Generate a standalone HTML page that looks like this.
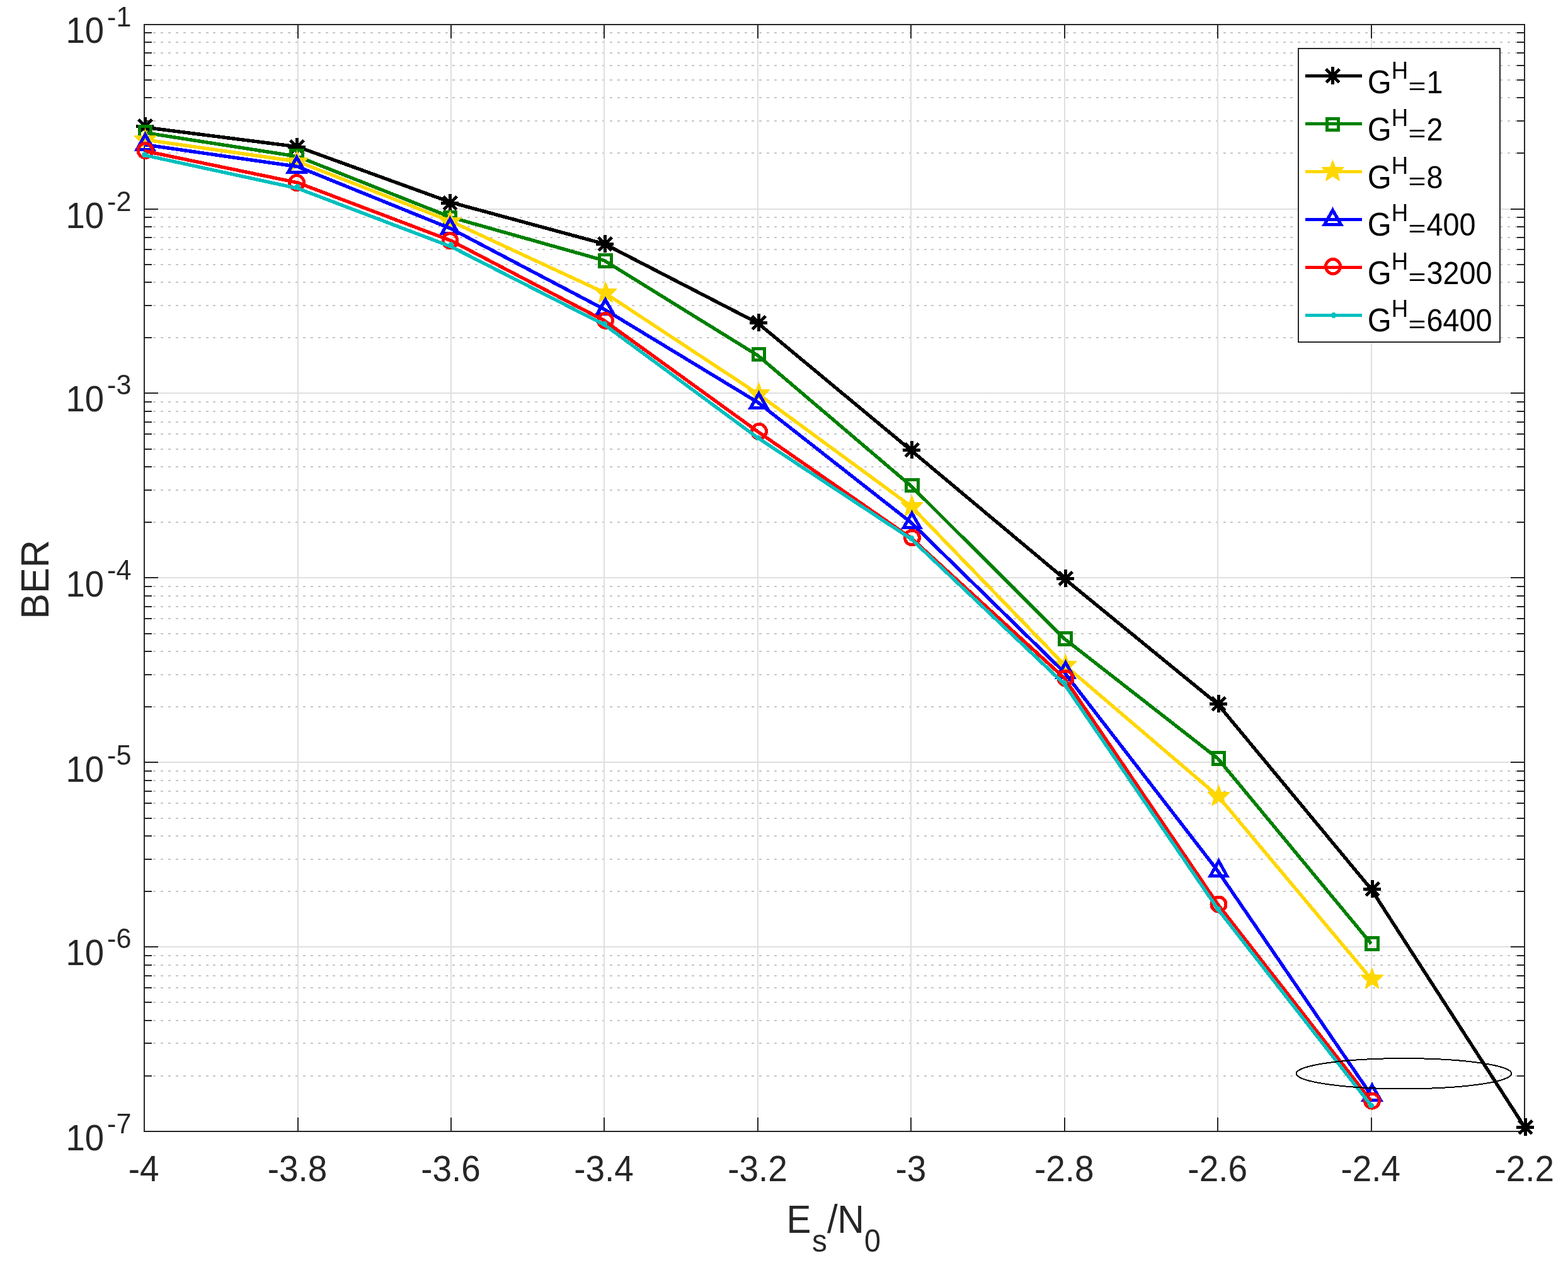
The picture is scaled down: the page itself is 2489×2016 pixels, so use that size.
<!DOCTYPE html>
<html lang="en">
<head>
<meta charset="utf-8">
<title>BER versus Es/N0</title>
<style>
html, body { margin: 0; padding: 0; background: #ffffff; }
body { width: 2489px; height: 2016px; overflow: hidden; }
svg { display: block; }
</style>
</head>
<body>
<svg xmlns="http://www.w3.org/2000/svg" width="2489" height="2016" viewBox="0 0 2489 2016">
<rect x="0" y="0" width="2489" height="2016" fill="#ffffff"/>
<g shape-rendering="crispEdges">
<line x1="231.55" y1="243" x2="2420" y2="243" stroke="#c6c6c6" stroke-width="2" stroke-dasharray="4 7.875"/>
<line x1="231.55" y1="192" x2="2420" y2="192" stroke="#c6c6c6" stroke-width="2" stroke-dasharray="4 7.875"/>
<line x1="231.55" y1="155" x2="2420" y2="155" stroke="#c6c6c6" stroke-width="2" stroke-dasharray="4 7.875"/>
<line x1="231.55" y1="127" x2="2420" y2="127" stroke="#c6c6c6" stroke-width="2" stroke-dasharray="4 7.875"/>
<line x1="231.55" y1="104" x2="2420" y2="104" stroke="#c6c6c6" stroke-width="2" stroke-dasharray="4 7.875"/>
<line x1="231.55" y1="84" x2="2420" y2="84" stroke="#c6c6c6" stroke-width="2" stroke-dasharray="4 7.875"/>
<line x1="231.55" y1="67" x2="2420" y2="67" stroke="#c6c6c6" stroke-width="2" stroke-dasharray="4 7.875"/>
<line x1="231.55" y1="52" x2="2420" y2="52" stroke="#c6c6c6" stroke-width="2" stroke-dasharray="4 7.875"/>
<line x1="231.55" y1="536" x2="2420" y2="536" stroke="#c6c6c6" stroke-width="2" stroke-dasharray="4 7.875"/>
<line x1="231.55" y1="485" x2="2420" y2="485" stroke="#c6c6c6" stroke-width="2" stroke-dasharray="4 7.875"/>
<line x1="231.55" y1="448" x2="2420" y2="448" stroke="#c6c6c6" stroke-width="2" stroke-dasharray="4 7.875"/>
<line x1="231.55" y1="420" x2="2420" y2="420" stroke="#c6c6c6" stroke-width="2" stroke-dasharray="4 7.875"/>
<line x1="231.55" y1="396" x2="2420" y2="396" stroke="#c6c6c6" stroke-width="2" stroke-dasharray="4 7.875"/>
<line x1="231.55" y1="377" x2="2420" y2="377" stroke="#c6c6c6" stroke-width="2" stroke-dasharray="4 7.875"/>
<line x1="231.55" y1="360" x2="2420" y2="360" stroke="#c6c6c6" stroke-width="2" stroke-dasharray="4 7.875"/>
<line x1="231.55" y1="345" x2="2420" y2="345" stroke="#c6c6c6" stroke-width="2" stroke-dasharray="4 7.875"/>
<line x1="231.55" y1="829" x2="2420" y2="829" stroke="#c6c6c6" stroke-width="2" stroke-dasharray="4 7.875"/>
<line x1="231.55" y1="778" x2="2420" y2="778" stroke="#c6c6c6" stroke-width="2" stroke-dasharray="4 7.875"/>
<line x1="231.55" y1="741" x2="2420" y2="741" stroke="#c6c6c6" stroke-width="2" stroke-dasharray="4 7.875"/>
<line x1="231.55" y1="713" x2="2420" y2="713" stroke="#c6c6c6" stroke-width="2" stroke-dasharray="4 7.875"/>
<line x1="231.55" y1="689" x2="2420" y2="689" stroke="#c6c6c6" stroke-width="2" stroke-dasharray="4 7.875"/>
<line x1="231.55" y1="670" x2="2420" y2="670" stroke="#c6c6c6" stroke-width="2" stroke-dasharray="4 7.875"/>
<line x1="231.55" y1="653" x2="2420" y2="653" stroke="#c6c6c6" stroke-width="2" stroke-dasharray="4 7.875"/>
<line x1="231.55" y1="638" x2="2420" y2="638" stroke="#c6c6c6" stroke-width="2" stroke-dasharray="4 7.875"/>
<line x1="231.55" y1="1122" x2="2420" y2="1122" stroke="#c6c6c6" stroke-width="2" stroke-dasharray="4 7.875"/>
<line x1="231.55" y1="1071" x2="2420" y2="1071" stroke="#c6c6c6" stroke-width="2" stroke-dasharray="4 7.875"/>
<line x1="231.55" y1="1034" x2="2420" y2="1034" stroke="#c6c6c6" stroke-width="2" stroke-dasharray="4 7.875"/>
<line x1="231.55" y1="1006" x2="2420" y2="1006" stroke="#c6c6c6" stroke-width="2" stroke-dasharray="4 7.875"/>
<line x1="231.55" y1="982" x2="2420" y2="982" stroke="#c6c6c6" stroke-width="2" stroke-dasharray="4 7.875"/>
<line x1="231.55" y1="963" x2="2420" y2="963" stroke="#c6c6c6" stroke-width="2" stroke-dasharray="4 7.875"/>
<line x1="231.55" y1="946" x2="2420" y2="946" stroke="#c6c6c6" stroke-width="2" stroke-dasharray="4 7.875"/>
<line x1="231.55" y1="931" x2="2420" y2="931" stroke="#c6c6c6" stroke-width="2" stroke-dasharray="4 7.875"/>
<line x1="231.55" y1="1415" x2="2420" y2="1415" stroke="#c6c6c6" stroke-width="2" stroke-dasharray="4 7.875"/>
<line x1="231.55" y1="1364" x2="2420" y2="1364" stroke="#c6c6c6" stroke-width="2" stroke-dasharray="4 7.875"/>
<line x1="231.55" y1="1327" x2="2420" y2="1327" stroke="#c6c6c6" stroke-width="2" stroke-dasharray="4 7.875"/>
<line x1="231.55" y1="1299" x2="2420" y2="1299" stroke="#c6c6c6" stroke-width="2" stroke-dasharray="4 7.875"/>
<line x1="231.55" y1="1275" x2="2420" y2="1275" stroke="#c6c6c6" stroke-width="2" stroke-dasharray="4 7.875"/>
<line x1="231.55" y1="1256" x2="2420" y2="1256" stroke="#c6c6c6" stroke-width="2" stroke-dasharray="4 7.875"/>
<line x1="231.55" y1="1239" x2="2420" y2="1239" stroke="#c6c6c6" stroke-width="2" stroke-dasharray="4 7.875"/>
<line x1="231.55" y1="1224" x2="2420" y2="1224" stroke="#c6c6c6" stroke-width="2" stroke-dasharray="4 7.875"/>
<line x1="231.55" y1="1708" x2="2420" y2="1708" stroke="#c6c6c6" stroke-width="2" stroke-dasharray="4 7.875"/>
<line x1="231.55" y1="1656" x2="2420" y2="1656" stroke="#c6c6c6" stroke-width="2" stroke-dasharray="4 7.875"/>
<line x1="231.55" y1="1620" x2="2420" y2="1620" stroke="#c6c6c6" stroke-width="2" stroke-dasharray="4 7.875"/>
<line x1="231.55" y1="1591" x2="2420" y2="1591" stroke="#c6c6c6" stroke-width="2" stroke-dasharray="4 7.875"/>
<line x1="231.55" y1="1568" x2="2420" y2="1568" stroke="#c6c6c6" stroke-width="2" stroke-dasharray="4 7.875"/>
<line x1="231.55" y1="1549" x2="2420" y2="1549" stroke="#c6c6c6" stroke-width="2" stroke-dasharray="4 7.875"/>
<line x1="231.55" y1="1532" x2="2420" y2="1532" stroke="#c6c6c6" stroke-width="2" stroke-dasharray="4 7.875"/>
<line x1="231.55" y1="1517" x2="2420" y2="1517" stroke="#c6c6c6" stroke-width="2" stroke-dasharray="4 7.875"/>
<line x1="473" y1="39" x2="473" y2="1796" stroke="#dfdfdf" stroke-width="2"/>
<line x1="716" y1="39" x2="716" y2="1796" stroke="#dfdfdf" stroke-width="2"/>
<line x1="959" y1="39" x2="959" y2="1796" stroke="#dfdfdf" stroke-width="2"/>
<line x1="1203" y1="39" x2="1203" y2="1796" stroke="#dfdfdf" stroke-width="2"/>
<line x1="1446" y1="39" x2="1446" y2="1796" stroke="#dfdfdf" stroke-width="2"/>
<line x1="1690" y1="39" x2="1690" y2="1796" stroke="#dfdfdf" stroke-width="2"/>
<line x1="1933" y1="39" x2="1933" y2="1796" stroke="#dfdfdf" stroke-width="2"/>
<line x1="2177" y1="39" x2="2177" y2="1796" stroke="#dfdfdf" stroke-width="2"/>
<line x1="229" y1="332" x2="2420" y2="332" stroke="#dfdfdf" stroke-width="2"/>
<line x1="229" y1="624" x2="2420" y2="624" stroke="#dfdfdf" stroke-width="2"/>
<line x1="229" y1="917" x2="2420" y2="917" stroke="#dfdfdf" stroke-width="2"/>
<line x1="229" y1="1210" x2="2420" y2="1210" stroke="#dfdfdf" stroke-width="2"/>
<line x1="229" y1="1503" x2="2420" y2="1503" stroke="#dfdfdf" stroke-width="2"/>
<line x1="473" y1="1796" x2="473" y2="1774" stroke="#262626" stroke-width="2"/>
<line x1="473" y1="39" x2="473" y2="61" stroke="#262626" stroke-width="2"/>
<line x1="716" y1="1796" x2="716" y2="1774" stroke="#262626" stroke-width="2"/>
<line x1="716" y1="39" x2="716" y2="61" stroke="#262626" stroke-width="2"/>
<line x1="959" y1="1796" x2="959" y2="1774" stroke="#262626" stroke-width="2"/>
<line x1="959" y1="39" x2="959" y2="61" stroke="#262626" stroke-width="2"/>
<line x1="1203" y1="1796" x2="1203" y2="1774" stroke="#262626" stroke-width="2"/>
<line x1="1203" y1="39" x2="1203" y2="61" stroke="#262626" stroke-width="2"/>
<line x1="1446" y1="1796" x2="1446" y2="1774" stroke="#262626" stroke-width="2"/>
<line x1="1446" y1="39" x2="1446" y2="61" stroke="#262626" stroke-width="2"/>
<line x1="1690" y1="1796" x2="1690" y2="1774" stroke="#262626" stroke-width="2"/>
<line x1="1690" y1="39" x2="1690" y2="61" stroke="#262626" stroke-width="2"/>
<line x1="1933" y1="1796" x2="1933" y2="1774" stroke="#262626" stroke-width="2"/>
<line x1="1933" y1="39" x2="1933" y2="61" stroke="#262626" stroke-width="2"/>
<line x1="2177" y1="1796" x2="2177" y2="1774" stroke="#262626" stroke-width="2"/>
<line x1="2177" y1="39" x2="2177" y2="61" stroke="#262626" stroke-width="2"/>
<line x1="229" y1="332" x2="251" y2="332" stroke="#262626" stroke-width="2"/>
<line x1="2420" y1="332" x2="2398" y2="332" stroke="#262626" stroke-width="2"/>
<line x1="229" y1="624" x2="251" y2="624" stroke="#262626" stroke-width="2"/>
<line x1="2420" y1="624" x2="2398" y2="624" stroke="#262626" stroke-width="2"/>
<line x1="229" y1="917" x2="251" y2="917" stroke="#262626" stroke-width="2"/>
<line x1="2420" y1="917" x2="2398" y2="917" stroke="#262626" stroke-width="2"/>
<line x1="229" y1="1210" x2="251" y2="1210" stroke="#262626" stroke-width="2"/>
<line x1="2420" y1="1210" x2="2398" y2="1210" stroke="#262626" stroke-width="2"/>
<line x1="229" y1="1503" x2="251" y2="1503" stroke="#262626" stroke-width="2"/>
<line x1="2420" y1="1503" x2="2398" y2="1503" stroke="#262626" stroke-width="2"/>
<line x1="229" y1="243" x2="241" y2="243" stroke="#262626" stroke-width="2"/>
<line x1="2420" y1="243" x2="2408" y2="243" stroke="#262626" stroke-width="2"/>
<line x1="229" y1="192" x2="241" y2="192" stroke="#262626" stroke-width="2"/>
<line x1="2420" y1="192" x2="2408" y2="192" stroke="#262626" stroke-width="2"/>
<line x1="229" y1="155" x2="241" y2="155" stroke="#262626" stroke-width="2"/>
<line x1="2420" y1="155" x2="2408" y2="155" stroke="#262626" stroke-width="2"/>
<line x1="229" y1="127" x2="241" y2="127" stroke="#262626" stroke-width="2"/>
<line x1="2420" y1="127" x2="2408" y2="127" stroke="#262626" stroke-width="2"/>
<line x1="229" y1="104" x2="241" y2="104" stroke="#262626" stroke-width="2"/>
<line x1="2420" y1="104" x2="2408" y2="104" stroke="#262626" stroke-width="2"/>
<line x1="229" y1="84" x2="241" y2="84" stroke="#262626" stroke-width="2"/>
<line x1="2420" y1="84" x2="2408" y2="84" stroke="#262626" stroke-width="2"/>
<line x1="229" y1="67" x2="241" y2="67" stroke="#262626" stroke-width="2"/>
<line x1="2420" y1="67" x2="2408" y2="67" stroke="#262626" stroke-width="2"/>
<line x1="229" y1="52" x2="241" y2="52" stroke="#262626" stroke-width="2"/>
<line x1="2420" y1="52" x2="2408" y2="52" stroke="#262626" stroke-width="2"/>
<line x1="229" y1="536" x2="241" y2="536" stroke="#262626" stroke-width="2"/>
<line x1="2420" y1="536" x2="2408" y2="536" stroke="#262626" stroke-width="2"/>
<line x1="229" y1="485" x2="241" y2="485" stroke="#262626" stroke-width="2"/>
<line x1="2420" y1="485" x2="2408" y2="485" stroke="#262626" stroke-width="2"/>
<line x1="229" y1="448" x2="241" y2="448" stroke="#262626" stroke-width="2"/>
<line x1="2420" y1="448" x2="2408" y2="448" stroke="#262626" stroke-width="2"/>
<line x1="229" y1="420" x2="241" y2="420" stroke="#262626" stroke-width="2"/>
<line x1="2420" y1="420" x2="2408" y2="420" stroke="#262626" stroke-width="2"/>
<line x1="229" y1="396" x2="241" y2="396" stroke="#262626" stroke-width="2"/>
<line x1="2420" y1="396" x2="2408" y2="396" stroke="#262626" stroke-width="2"/>
<line x1="229" y1="377" x2="241" y2="377" stroke="#262626" stroke-width="2"/>
<line x1="2420" y1="377" x2="2408" y2="377" stroke="#262626" stroke-width="2"/>
<line x1="229" y1="360" x2="241" y2="360" stroke="#262626" stroke-width="2"/>
<line x1="2420" y1="360" x2="2408" y2="360" stroke="#262626" stroke-width="2"/>
<line x1="229" y1="345" x2="241" y2="345" stroke="#262626" stroke-width="2"/>
<line x1="2420" y1="345" x2="2408" y2="345" stroke="#262626" stroke-width="2"/>
<line x1="229" y1="829" x2="241" y2="829" stroke="#262626" stroke-width="2"/>
<line x1="2420" y1="829" x2="2408" y2="829" stroke="#262626" stroke-width="2"/>
<line x1="229" y1="778" x2="241" y2="778" stroke="#262626" stroke-width="2"/>
<line x1="2420" y1="778" x2="2408" y2="778" stroke="#262626" stroke-width="2"/>
<line x1="229" y1="741" x2="241" y2="741" stroke="#262626" stroke-width="2"/>
<line x1="2420" y1="741" x2="2408" y2="741" stroke="#262626" stroke-width="2"/>
<line x1="229" y1="713" x2="241" y2="713" stroke="#262626" stroke-width="2"/>
<line x1="2420" y1="713" x2="2408" y2="713" stroke="#262626" stroke-width="2"/>
<line x1="229" y1="689" x2="241" y2="689" stroke="#262626" stroke-width="2"/>
<line x1="2420" y1="689" x2="2408" y2="689" stroke="#262626" stroke-width="2"/>
<line x1="229" y1="670" x2="241" y2="670" stroke="#262626" stroke-width="2"/>
<line x1="2420" y1="670" x2="2408" y2="670" stroke="#262626" stroke-width="2"/>
<line x1="229" y1="653" x2="241" y2="653" stroke="#262626" stroke-width="2"/>
<line x1="2420" y1="653" x2="2408" y2="653" stroke="#262626" stroke-width="2"/>
<line x1="229" y1="638" x2="241" y2="638" stroke="#262626" stroke-width="2"/>
<line x1="2420" y1="638" x2="2408" y2="638" stroke="#262626" stroke-width="2"/>
<line x1="229" y1="1122" x2="241" y2="1122" stroke="#262626" stroke-width="2"/>
<line x1="2420" y1="1122" x2="2408" y2="1122" stroke="#262626" stroke-width="2"/>
<line x1="229" y1="1071" x2="241" y2="1071" stroke="#262626" stroke-width="2"/>
<line x1="2420" y1="1071" x2="2408" y2="1071" stroke="#262626" stroke-width="2"/>
<line x1="229" y1="1034" x2="241" y2="1034" stroke="#262626" stroke-width="2"/>
<line x1="2420" y1="1034" x2="2408" y2="1034" stroke="#262626" stroke-width="2"/>
<line x1="229" y1="1006" x2="241" y2="1006" stroke="#262626" stroke-width="2"/>
<line x1="2420" y1="1006" x2="2408" y2="1006" stroke="#262626" stroke-width="2"/>
<line x1="229" y1="982" x2="241" y2="982" stroke="#262626" stroke-width="2"/>
<line x1="2420" y1="982" x2="2408" y2="982" stroke="#262626" stroke-width="2"/>
<line x1="229" y1="963" x2="241" y2="963" stroke="#262626" stroke-width="2"/>
<line x1="2420" y1="963" x2="2408" y2="963" stroke="#262626" stroke-width="2"/>
<line x1="229" y1="946" x2="241" y2="946" stroke="#262626" stroke-width="2"/>
<line x1="2420" y1="946" x2="2408" y2="946" stroke="#262626" stroke-width="2"/>
<line x1="229" y1="931" x2="241" y2="931" stroke="#262626" stroke-width="2"/>
<line x1="2420" y1="931" x2="2408" y2="931" stroke="#262626" stroke-width="2"/>
<line x1="229" y1="1415" x2="241" y2="1415" stroke="#262626" stroke-width="2"/>
<line x1="2420" y1="1415" x2="2408" y2="1415" stroke="#262626" stroke-width="2"/>
<line x1="229" y1="1364" x2="241" y2="1364" stroke="#262626" stroke-width="2"/>
<line x1="2420" y1="1364" x2="2408" y2="1364" stroke="#262626" stroke-width="2"/>
<line x1="229" y1="1327" x2="241" y2="1327" stroke="#262626" stroke-width="2"/>
<line x1="2420" y1="1327" x2="2408" y2="1327" stroke="#262626" stroke-width="2"/>
<line x1="229" y1="1299" x2="241" y2="1299" stroke="#262626" stroke-width="2"/>
<line x1="2420" y1="1299" x2="2408" y2="1299" stroke="#262626" stroke-width="2"/>
<line x1="229" y1="1275" x2="241" y2="1275" stroke="#262626" stroke-width="2"/>
<line x1="2420" y1="1275" x2="2408" y2="1275" stroke="#262626" stroke-width="2"/>
<line x1="229" y1="1256" x2="241" y2="1256" stroke="#262626" stroke-width="2"/>
<line x1="2420" y1="1256" x2="2408" y2="1256" stroke="#262626" stroke-width="2"/>
<line x1="229" y1="1239" x2="241" y2="1239" stroke="#262626" stroke-width="2"/>
<line x1="2420" y1="1239" x2="2408" y2="1239" stroke="#262626" stroke-width="2"/>
<line x1="229" y1="1224" x2="241" y2="1224" stroke="#262626" stroke-width="2"/>
<line x1="2420" y1="1224" x2="2408" y2="1224" stroke="#262626" stroke-width="2"/>
<line x1="229" y1="1708" x2="241" y2="1708" stroke="#262626" stroke-width="2"/>
<line x1="2420" y1="1708" x2="2408" y2="1708" stroke="#262626" stroke-width="2"/>
<line x1="229" y1="1656" x2="241" y2="1656" stroke="#262626" stroke-width="2"/>
<line x1="2420" y1="1656" x2="2408" y2="1656" stroke="#262626" stroke-width="2"/>
<line x1="229" y1="1620" x2="241" y2="1620" stroke="#262626" stroke-width="2"/>
<line x1="2420" y1="1620" x2="2408" y2="1620" stroke="#262626" stroke-width="2"/>
<line x1="229" y1="1591" x2="241" y2="1591" stroke="#262626" stroke-width="2"/>
<line x1="2420" y1="1591" x2="2408" y2="1591" stroke="#262626" stroke-width="2"/>
<line x1="229" y1="1568" x2="241" y2="1568" stroke="#262626" stroke-width="2"/>
<line x1="2420" y1="1568" x2="2408" y2="1568" stroke="#262626" stroke-width="2"/>
<line x1="229" y1="1549" x2="241" y2="1549" stroke="#262626" stroke-width="2"/>
<line x1="2420" y1="1549" x2="2408" y2="1549" stroke="#262626" stroke-width="2"/>
<line x1="229" y1="1532" x2="241" y2="1532" stroke="#262626" stroke-width="2"/>
<line x1="2420" y1="1532" x2="2408" y2="1532" stroke="#262626" stroke-width="2"/>
<line x1="229" y1="1517" x2="241" y2="1517" stroke="#262626" stroke-width="2"/>
<line x1="2420" y1="1517" x2="2408" y2="1517" stroke="#262626" stroke-width="2"/>
<rect x="229" y="39" width="2191" height="1757" fill="none" stroke="#262626" stroke-width="2"/>
</g>
<g shape-rendering="crispEdges" stroke-linejoin="miter" stroke-linecap="butt">
<path fill="#000000" d="M216 198h28v5h-28ZM228 186h5v28h-5Z"/><path d="M219.9 189.7L241.1 210.9M219.9 210.9L241.1 189.7" stroke="#000000" stroke-width="4.8" fill="none"/>
<path fill="#000000" d="M457 231h28v5h-28ZM469 219h5v28h-5Z"/><path d="M460.9 222.7L482.1 243.9M460.9 243.9L482.1 222.7" stroke="#000000" stroke-width="4.8" fill="none"/>
<path fill="#000000" d="M700 320h28v5h-28ZM712 308h5v28h-5Z"/><path d="M703.9 311.7L725.1 332.9M703.9 332.9L725.1 311.7" stroke="#000000" stroke-width="4.8" fill="none"/>
<path fill="#000000" d="M946 385h28v5h-28ZM958 373h5v28h-5Z"/><path d="M949.9 376.7L971.1 397.9M949.9 397.9L971.1 376.7" stroke="#000000" stroke-width="4.8" fill="none"/>
<path fill="#000000" d="M1190 510h28v5h-28ZM1202 498h5v28h-5Z"/><path d="M1193.9 501.7L1215.1 522.9M1193.9 522.9L1215.1 501.7" stroke="#000000" stroke-width="4.8" fill="none"/>
<path fill="#000000" d="M1433 712h28v5h-28ZM1445 700h5v28h-5Z"/><path d="M1436.9 703.7L1458.1 724.9M1436.9 724.9L1458.1 703.7" stroke="#000000" stroke-width="4.8" fill="none"/>
<path fill="#000000" d="M1677 916h28v5h-28ZM1689 904h5v28h-5Z"/><path d="M1680.9 907.7L1702.1 928.9M1680.9 928.9L1702.1 907.7" stroke="#000000" stroke-width="4.8" fill="none"/>
<path fill="#000000" d="M1920 1115h28v5h-28ZM1932 1103h5v28h-5Z"/><path d="M1923.9 1106.7L1945.1 1127.9M1923.9 1127.9L1945.1 1106.7" stroke="#000000" stroke-width="4.8" fill="none"/>
<path fill="#000000" d="M2164 1409h28v5h-28ZM2176 1397h5v28h-5Z"/><path d="M2167.9 1400.7L2189.1 1421.9M2167.9 1421.9L2189.1 1400.7" stroke="#000000" stroke-width="4.8" fill="none"/>
<path fill="#000000" d="M2407 1787h28v5h-28ZM2419 1775h5v28h-5Z"/><path d="M2410.9 1778.7L2432.1 1799.9M2410.9 1799.9L2432.1 1778.7" stroke="#000000" stroke-width="4.8" fill="none"/>
<polyline points="229,202 472.44,233 715.89,321.3 959.33,387.2 1202.78,512.7 1446.22,714.9 1689.67,918.7 1933.11,1117.8 2176.56,1411.5 2420,1789" fill="none" stroke="#000000" stroke-width="5.5"/>
<path fill-rule="evenodd" fill="#008000" d="M219 198H242V221H219ZM224 203H237V216H224Z"/>
<path fill-rule="evenodd" fill="#008000" d="M459 236H483V260H459ZM464 241H478V255H464Z"/>
<path fill-rule="evenodd" fill="#008000" d="M703 334H726V357H703ZM708 339H721V352H708Z"/>
<path fill-rule="evenodd" fill="#008000" d="M949 402H973V426H949ZM954 407H968V421H954Z"/>
<path fill-rule="evenodd" fill="#008000" d="M1193 551H1216V574H1193ZM1198 556H1211V569H1198Z"/>
<path fill-rule="evenodd" fill="#008000" d="M1436 759H1460V782H1436ZM1441 764H1455V777H1441Z"/>
<path fill-rule="evenodd" fill="#008000" d="M1679 1002H1703V1026H1679ZM1684 1007H1698V1021H1684Z"/>
<path fill-rule="evenodd" fill="#008000" d="M1923 1192H1946V1216H1923ZM1928 1197H1941V1211H1928Z"/>
<path fill-rule="evenodd" fill="#008000" d="M2166 1486H2190V1510H2166ZM2171 1491H2185V1505H2171Z"/>
<polyline points="229,210.5 472.44,248.4 715.89,344.9 959.33,413.6 1202.78,564.2 1446.22,771.4 1689.67,1014 1933.11,1204 2176.56,1498" fill="none" stroke="#008000" stroke-width="5.5"/>
<polygon points="230.5,203 235.05,215.04 248.05,215.04 248.05,216.5 238.9,225.1 242,237.15 240.9,237.15 230.5,230.2 220.1,237.15 219,237.15 222.1,225.1 212.95,216.5 212.95,215.04 225.95,215.04" fill="#ffd700"/>
<polygon points="471.5,238 476.05,250.04 489.05,250.04 489.05,251.5 479.9,260.1 483,272.15 481.9,272.15 471.5,265.2 461.1,272.15 460,272.15 463.1,260.1 453.95,251.5 453.95,250.04 466.95,250.04" fill="#ffd700"/>
<polygon points="714.5,333 719.05,345.04 732.05,345.04 732.05,346.5 722.9,355.1 726,367.15 724.9,367.15 714.5,360.2 704.1,367.15 703,367.15 706.1,355.1 696.95,346.5 696.95,345.04 709.95,345.04" fill="#ffd700"/>
<polygon points="961.5,446.1 966.05,458.14 979.05,458.14 979.05,459.6 969.9,468.2 973,480.25 971.9,480.25 961.5,473.3 951.1,480.25 950,480.25 953.1,468.2 943.95,459.6 943.95,458.14 956.95,458.14" fill="#ffd700"/>
<polygon points="1204.5,606 1209.05,618.04 1222.05,618.04 1222.05,619.5 1212.9,628.1 1216,640.15 1214.9,640.15 1204.5,633.2 1194.1,640.15 1193,640.15 1196.1,628.1 1186.95,619.5 1186.95,618.04 1199.95,618.04" fill="#ffd700"/>
<polygon points="1447.5,785 1452.05,797.04 1465.05,797.04 1465.05,798.5 1455.9,807.1 1459,819.15 1457.9,819.15 1447.5,812.2 1437.1,819.15 1436,819.15 1439.1,807.1 1429.95,798.5 1429.95,797.04 1442.95,797.04" fill="#ffd700"/>
<polygon points="1691.5,1037.1 1696.05,1049.14 1709.05,1049.14 1709.05,1050.6 1699.9,1059.2 1703,1071.25 1701.9,1071.25 1691.5,1064.3 1681.1,1071.25 1680,1071.25 1683.1,1059.2 1673.95,1050.6 1673.95,1049.14 1686.95,1049.14" fill="#ffd700"/>
<polygon points="1934.5,1245 1939.05,1257.04 1952.05,1257.04 1952.05,1258.5 1942.9,1267.1 1946,1279.15 1944.9,1279.15 1934.5,1272.2 1924.1,1279.15 1923,1279.15 1926.1,1267.1 1916.95,1258.5 1916.95,1257.04 1929.95,1257.04" fill="#ffd700"/>
<polygon points="2178,1535.4 2182.55,1547.44 2195.55,1547.44 2195.55,1548.9 2186.4,1557.5 2189.5,1569.55 2188.4,1569.55 2178,1562.6 2167.6,1569.55 2166.5,1569.55 2169.6,1557.5 2160.45,1548.9 2160.45,1547.44 2173.45,1547.44" fill="#ffd700"/>
<polyline points="229,221.6 472.44,256.4 715.89,351.4 959.33,464.5 1202.78,625 1446.22,803.65 1689.67,1055.5 1933.11,1263.4 2176.56,1553.8" fill="none" stroke="#ffd700" stroke-width="5.5"/>
<path fill-rule="evenodd" fill="#0000ff" d="M230.5 208.4L248 240L213 240ZM230.5 219L239.53 235L221.47 235Z"/>
<path fill-rule="evenodd" fill="#0000ff" d="M471 244.4L489 276L453 276ZM471 255L480.29 271L461.71 271Z"/>
<path fill-rule="evenodd" fill="#0000ff" d="M714.5 342.4L732 373L697 373ZM714.5 353L723.25 368L705.75 368Z"/>
<path fill-rule="evenodd" fill="#0000ff" d="M961 470.4L978.5 501L943.5 501ZM961 481L969.75 496L952.25 496Z"/>
<path fill-rule="evenodd" fill="#0000ff" d="M1204.5 619.4L1222 650L1187 650ZM1204.5 630L1213.25 645L1195.75 645Z"/>
<path fill-rule="evenodd" fill="#0000ff" d="M1447.5 809.4L1465 840L1430 840ZM1447.5 820L1456.25 835L1438.75 835Z"/>
<path fill-rule="evenodd" fill="#0000ff" d="M1691.5 1046.4L1709 1078L1674 1078ZM1691.5 1057L1700.53 1073L1682.47 1073Z"/>
<path fill-rule="evenodd" fill="#0000ff" d="M1934.5 1361.4L1952 1393L1917 1393ZM1934.5 1372L1943.53 1388L1925.47 1388Z"/>
<path fill-rule="evenodd" fill="#0000ff" d="M2178 1717.4L2196 1749L2160 1749ZM2178 1728L2187.29 1744L2168.71 1744Z"/>
<polyline points="229,229.6 472.44,264.5 715.89,363 959.33,491 1202.78,638.6 1446.22,829.4 1689.67,1067.5 1933.11,1382.5 2176.56,1738.4" fill="none" stroke="#0000ff" stroke-width="5.5"/>
<circle cx="230.65" cy="239" r="11.5" stroke="#ff0000" stroke-width="5" fill="none"/>
<circle cx="471" cy="290" r="11.5" stroke="#ff0000" stroke-width="5" fill="none"/>
<circle cx="714.5" cy="382" r="11.5" stroke="#ff0000" stroke-width="5" fill="none"/>
<circle cx="961" cy="508.9" r="11.5" stroke="#ff0000" stroke-width="5" fill="none"/>
<circle cx="1205" cy="684.8" r="11.5" stroke="#ff0000" stroke-width="5" fill="none"/>
<circle cx="1447.9" cy="853.5" r="11.5" stroke="#ff0000" stroke-width="5" fill="none"/>
<circle cx="1691.5" cy="1076.5" r="11.5" stroke="#ff0000" stroke-width="5" fill="none"/>
<circle cx="1934.5" cy="1435.5" r="11.5" stroke="#ff0000" stroke-width="5" fill="none"/>
<circle cx="2178" cy="1747.6" r="11.5" stroke="#ff0000" stroke-width="5" fill="none"/>
<polyline points="229,239.5 472.44,290 715.89,382 959.33,508.9 1202.78,685 1446.22,854 1689.67,1076.5 1933.11,1435.5 2176.56,1747.6" fill="none" stroke="#ff0000" stroke-width="5.5"/>
<circle cx="229.5" cy="245.6" r="4.5" fill="#00bfbf"/>
<circle cx="472.4" cy="296.5" r="4.5" fill="#00bfbf"/>
<circle cx="715.9" cy="388.5" r="4.5" fill="#00bfbf"/>
<circle cx="959.5" cy="514.4" r="4.5" fill="#00bfbf"/>
<circle cx="1203.2" cy="695" r="4.5" fill="#00bfbf"/>
<circle cx="1446.7" cy="854.5" r="4.5" fill="#00bfbf"/>
<circle cx="1690" cy="1084.5" r="4.5" fill="#00bfbf"/>
<circle cx="1933.5" cy="1443" r="4.5" fill="#00bfbf"/>
<circle cx="2176.6" cy="1755" r="4.5" fill="#00bfbf"/>
<polyline points="229,246.2 472.44,299 715.89,391.5 959.33,515.4 1202.78,695 1446.22,855.4 1689.67,1086 1933.11,1443 2176.56,1755" fill="none" stroke="#00bfbf" stroke-width="5.5"/>
</g>
<rect x="2061" y="77" width="320" height="466" fill="#ffffff" stroke="#262626" stroke-width="2" shape-rendering="crispEdges"/>
<g shape-rendering="crispEdges">
<line x1="2072" y1="120.5" x2="2162" y2="120.5" stroke="#000000" stroke-width="5"/>
<path fill="#000000" d="M2101 118h28v5h-28ZM2113 106h5v28h-5Z"/><path d="M2104.9 109.7L2126.1 130.9M2104.9 130.9L2126.1 109.7" stroke="#000000" stroke-width="4.8" fill="none"/>
<line x1="2072" y1="196.5" x2="2162" y2="196.5" stroke="#008000" stroke-width="5"/>
<path fill-rule="evenodd" fill="#008000" d="M2104 186H2127V209H2104ZM2109 191H2122V204H2109Z"/>
<line x1="2072" y1="272.5" x2="2162" y2="272.5" stroke="#ffd700" stroke-width="5"/>
<polygon points="2115.5,253 2120.05,265.04 2133.05,265.04 2133.05,266.5 2123.9,275.1 2127,287.15 2125.9,287.15 2115.5,280.2 2105.1,287.15 2104,287.15 2107.1,275.1 2097.95,266.5 2097.95,265.04 2110.95,265.04" fill="#ffd700"/>
<line x1="2072" y1="348.5" x2="2162" y2="348.5" stroke="#0000ff" stroke-width="5"/>
<path fill-rule="evenodd" fill="#0000ff" d="M2115.5 328.4L2133 359L2098 359ZM2115.5 339L2124.25 354L2106.75 354Z"/>
<line x1="2072" y1="424.5" x2="2162" y2="424.5" stroke="#ff0000" stroke-width="5"/>
<circle cx="2116" cy="423" r="11.5" stroke="#ff0000" stroke-width="5" fill="none"/>
<line x1="2072" y1="500.5" x2="2162" y2="500.5" stroke="#00bfbf" stroke-width="5"/>
<circle cx="2117" cy="500.5" r="4.5" fill="#00bfbf"/>
</g>
<g font-family='"Liberation Sans", "DejaVu Sans", sans-serif' fill="#000000">
<text transform="translate(2170.82,148) scale(0.94,1)" font-size="52.0">G</text>
<text transform="translate(2208.65,124.8) scale(0.947,1)" font-size="38.6">H</text>
<text transform="translate(2235.4,149.13) scale(0.962,0.735)" font-size="49.8">=</text>
<text transform="translate(2264.6,148) scale(0.942,1)" font-size="49.6">1</text>
<text transform="translate(2170.82,223) scale(0.94,1)" font-size="52.0">G</text>
<text transform="translate(2208.65,199.8) scale(0.947,1)" font-size="38.6">H</text>
<text transform="translate(2235.4,224.13) scale(0.962,0.735)" font-size="49.8">=</text>
<text transform="translate(2264.6,223) scale(0.942,1)" font-size="49.6">2</text>
<text transform="translate(2170.82,299) scale(0.94,1)" font-size="52.0">G</text>
<text transform="translate(2208.65,275.8) scale(0.947,1)" font-size="38.6">H</text>
<text transform="translate(2235.4,300.13) scale(0.962,0.735)" font-size="49.8">=</text>
<text transform="translate(2264.6,299) scale(0.942,1)" font-size="49.6">8</text>
<text transform="translate(2170.82,374.1) scale(0.94,1)" font-size="52.0">G</text>
<text transform="translate(2208.65,350.9) scale(0.947,1)" font-size="38.6">H</text>
<text transform="translate(2235.4,375.23) scale(0.962,0.735)" font-size="49.8">=</text>
<text transform="translate(2264.6,374.1) scale(0.942,1)" font-size="49.6">400</text>
<text transform="translate(2170.82,451.3) scale(0.94,1)" font-size="52.0">G</text>
<text transform="translate(2208.65,428.1) scale(0.947,1)" font-size="38.6">H</text>
<text transform="translate(2235.4,452.43) scale(0.962,0.735)" font-size="49.8">=</text>
<text transform="translate(2264.6,451.3) scale(0.942,1)" font-size="49.6">3200</text>
<text transform="translate(2170.82,526.2) scale(0.94,1)" font-size="52.0">G</text>
<text transform="translate(2208.65,503) scale(0.947,1)" font-size="38.6">H</text>
<text transform="translate(2235.4,527.33) scale(0.962,0.735)" font-size="49.8">=</text>
<text transform="translate(2264.6,526.2) scale(0.942,1)" font-size="49.6">6400</text>
</g>
<ellipse cx="2228.5" cy="1704.2" rx="170.8" ry="24.1" fill="none" stroke="#000000" stroke-width="2" shape-rendering="crispEdges"/>
<g font-family='"Liberation Sans", "DejaVu Sans", sans-serif' fill="#262626">
<text transform="translate(203.75,1875) scale(0.965,1)" font-size="56.9">-4</text>
<text transform="translate(424.69,1875) scale(0.965,1)" font-size="56.9">-3.8</text>
<text transform="translate(668.13,1875) scale(0.965,1)" font-size="56.9">-3.6</text>
<text transform="translate(911.16,1875) scale(0.965,1)" font-size="56.9">-3.4</text>
<text transform="translate(1155.23,1875) scale(0.965,1)" font-size="56.9">-3.2</text>
<text transform="translate(1421.39,1875) scale(0.965,1)" font-size="56.9">-3</text>
<text transform="translate(1641.91,1875) scale(0.965,1)" font-size="56.9">-2.8</text>
<text transform="translate(1885.35,1875) scale(0.965,1)" font-size="56.9">-2.6</text>
<text transform="translate(2128.39,1875) scale(0.965,1)" font-size="56.9">-2.4</text>
<text transform="translate(2372.45,1875) scale(0.965,1)" font-size="56.9">-2.2</text>
<text transform="translate(104.47,67.8) scale(0.96,1)" font-size="56.9">10</text>
<text transform="translate(170.06,41.8) scale(0.972,1)" font-size="44.4">-1</text>
<text transform="translate(104.47,361.9) scale(0.96,1)" font-size="56.9">10</text>
<text transform="translate(170.06,335) scale(0.972,1)" font-size="44.4">-2</text>
<text transform="translate(104.47,652.9) scale(0.96,1)" font-size="56.9">10</text>
<text transform="translate(170.06,626) scale(0.972,1)" font-size="44.4">-3</text>
<text transform="translate(104.47,947) scale(0.96,1)" font-size="56.9">10</text>
<text transform="translate(170.06,920.1) scale(0.972,1)" font-size="44.4">-4</text>
<text transform="translate(104.47,1241) scale(0.96,1)" font-size="56.9">10</text>
<text transform="translate(170.06,1214.1) scale(0.972,1)" font-size="44.4">-5</text>
<text transform="translate(104.47,1532) scale(0.96,1)" font-size="56.9">10</text>
<text transform="translate(170.06,1505.1) scale(0.972,1)" font-size="44.4">-6</text>
<text transform="translate(104.47,1826) scale(0.96,1)" font-size="56.9">10</text>
<text transform="translate(170.06,1799.1) scale(0.972,1)" font-size="44.4">-7</text>
<text transform="translate(77,982.85) rotate(-90) scale(0.966,1)" font-size="63.4">BER</text>
<text transform="translate(1248.38,1956.9) scale(0.93,1)" font-size="62.8">E</text>
<text transform="translate(1288.88,1986.5) scale(0.97,1)" font-size="49.3">s</text>
<text transform="translate(1312.9,1956.9) scale(0.96,1)" font-size="62.8">/</text>
<text transform="translate(1329.19,1956.9) scale(0.94,1)" font-size="62.8">N</text>
<text transform="translate(1372.04,1986.5) scale(0.94,1)" font-size="49.6">0</text>
</g>
</svg>
</body>
</html>
